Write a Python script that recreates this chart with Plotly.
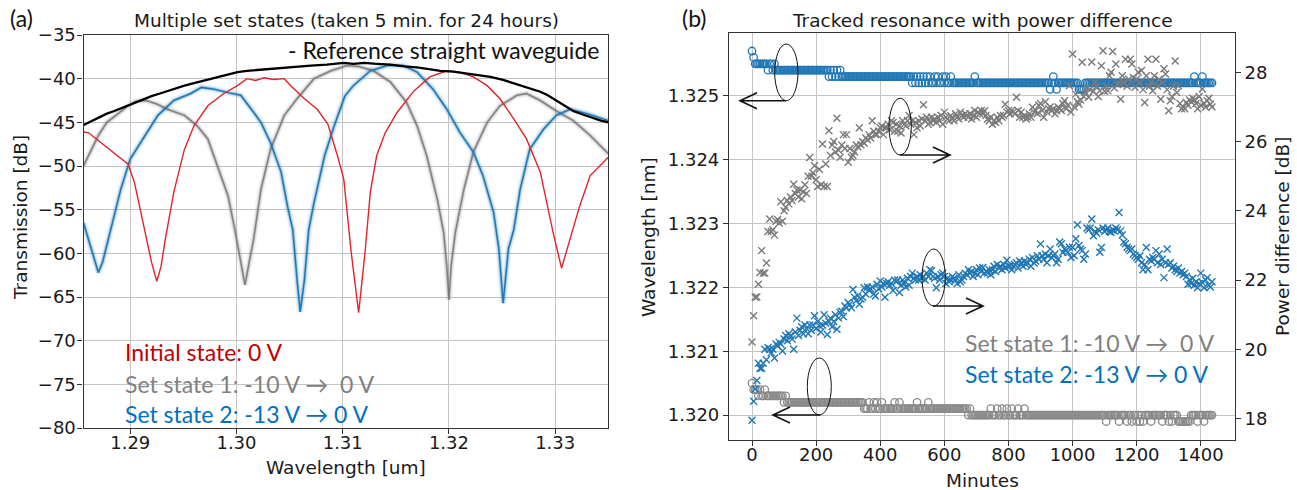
import plotly.graph_objects as go

W, H = 1297, 490

# ---------------- panel (a) data: (wavelength [um], transmission [dB]) ----------------
ref_curve = [(1.2856, -45.3), (1.2863, -44.9), (1.2870, -44.5), (1.2878, -44.0), (1.2885, -43.7),
             (1.2893, -43.3), (1.2901, -42.9), (1.2910, -42.5), (1.2920, -42.0), (1.2928, -41.7),
             (1.2935, -41.4), (1.2943, -41.1), (1.2951, -40.8), (1.2960, -40.5), (1.2970, -40.2),
             (1.2978, -39.9), (1.2985, -39.7), (1.2993, -39.5), (1.3001, -39.25), (1.3010, -39.1),
             (1.3020, -39.0), (1.3032, -38.8), (1.3045, -38.7), (1.3058, -38.6), (1.3070, -38.5),
             (1.3085, -38.4), (1.3101, -38.2), (1.3110, -38.3), (1.3120, -38.2), (1.3132, -38.3),
             (1.3145, -38.4), (1.3158, -38.6), (1.3170, -38.7), (1.3181, -38.9), (1.3192, -39.1),
             (1.3204, -39.2), (1.3215, -39.4), (1.3227, -39.6), (1.3239, -39.8), (1.3250, -40.1),
             (1.3260, -40.5), (1.3273, -41.0), (1.3286, -41.5), (1.3293, -41.9), (1.3300, -42.4),
             (1.3308, -43.0), (1.3317, -43.7), (1.3326, -44.1), (1.3335, -44.5), (1.3343, -44.8),
             (1.3350, -45.0)]

initial_curve = [(1.2856, -46.1), (1.2861, -46.2), (1.2866, -46.7), (1.2872, -47.3), (1.2882, -48.3),
                 (1.2891, -49.2), (1.2898, -49.8), (1.2904, -51.9), (1.2910, -55.3), (1.2915, -58.4),
                 (1.2920, -61.0), (1.2925, -63.2), (1.2929, -61.5), (1.2933, -58.4), (1.2941, -53.0),
                 (1.2951, -48.1), (1.2960, -45.4), (1.2973, -43.1), (1.2988, -41.7), (1.3001, -40.8),
                 (1.3010, -40.0), (1.3018, -40.2), (1.3026, -39.9), (1.3035, -40.1), (1.3045, -40.0),
                 (1.3051, -40.8), (1.3064, -42.3), (1.3076, -43.5), (1.3086, -45.2), (1.3095, -48.8),
                 (1.3101, -51.5), (1.3108, -59.9), (1.3115, -66.8), (1.3121, -59.9), (1.3126, -53.0),
                 (1.3132, -48.8), (1.3140, -46.2), (1.3151, -43.9), (1.3167, -41.4), (1.3182, -39.8),
                 (1.3198, -39.1), (1.3210, -39.25), (1.3223, -39.8), (1.3236, -40.8), (1.3248, -42.3),
                 (1.3261, -44.6), (1.3273, -46.9), (1.3286, -50.7), (1.3298, -57.6), (1.3306, -61.7),
                 (1.3314, -58.4), (1.3323, -54.6), (1.3333, -51.1), (1.3339, -50.4), (1.3350, -49.0)]

set1_curve = [(1.2856, -50.0), (1.2862, -48.5), (1.2870, -46.5), (1.2878, -45.0), (1.2888, -44.0),
              (1.2897, -43.2), (1.2905, -42.6), (1.2915, -42.5), (1.2925, -42.9), (1.2935, -43.5),
              (1.2951, -44.2), (1.2963, -45.4), (1.2973, -46.9), (1.2982, -50.0), (1.2992, -53.4),
              (1.2998, -57.0), (1.3004, -60.7), (1.3008, -63.6), (1.3012, -61.0), (1.3016, -58.5),
              (1.3023, -52.7), (1.3032, -48.1), (1.3045, -44.2), (1.3057, -42.3), (1.3073, -40.0),
              (1.3089, -39.1), (1.3104, -38.5), (1.3115, -38.6), (1.3129, -39.1), (1.3145, -40.4),
              (1.3160, -42.7), (1.3170, -45.4), (1.3179, -48.8), (1.3189, -53.8), (1.3195, -57.6),
              (1.3198, -61.5), (1.3200, -65.3), (1.3202, -61.5), (1.3206, -57.6), (1.3214, -52.7),
              (1.3223, -48.4), (1.3236, -45.0), (1.3248, -43.1), (1.3264, -41.9), (1.3273, -41.7),
              (1.3286, -42.5), (1.3301, -43.7), (1.3317, -44.8), (1.3333, -46.5), (1.3350, -48.6)]

set2_curve = [(1.2856, -56.5), (1.2862, -59.0), (1.2866, -60.5), (1.2870, -62.2), (1.2874, -61.0),
              (1.2881, -57.6), (1.2891, -52.7), (1.2900, -49.2), (1.2916, -46.1), (1.2926, -44.2),
              (1.2941, -42.5), (1.2957, -41.7), (1.2967, -41.0), (1.2979, -41.2), (1.2992, -41.6),
              (1.3004, -41.9), (1.3014, -43.5), (1.3023, -45.0), (1.3032, -47.3), (1.3042, -50.7),
              (1.3048, -54.6), (1.3053, -57.3), (1.3057, -63.0), (1.3060, -66.7), (1.3064, -63.0),
              (1.3068, -57.3), (1.3073, -54.2), (1.3083, -48.8), (1.3092, -45.4), (1.3102, -42.0),
              (1.3110, -40.8), (1.3126, -39.1), (1.3142, -38.5), (1.3157, -38.5), (1.3170, -39.25),
              (1.3185, -41.2), (1.3198, -43.5), (1.3210, -46.1), (1.3223, -48.4), (1.3232, -51.1),
              (1.3242, -55.3), (1.3247, -59.5), (1.3251, -65.7), (1.3256, -59.5), (1.3261, -57.3),
              (1.3267, -52.7), (1.3276, -48.1), (1.3289, -45.8), (1.3301, -44.2), (1.3314, -43.5),
              (1.3330, -44.0), (1.3350, -44.8)]

trans_ticks = [-80, -75, -70, -65, -60, -55, -50, -45, -40, -35]
wl_ticks = [1.29, 1.30, 1.31, 1.32, 1.33]

# ---------------- panel (b) data: one sample every 5 minutes for 24 hours ----------------
minutes = list(range(0, 1440, 5))

res_state1 = [  # set state 1 tracked resonance (grey circles)
    1.3205, 1.3204, 1.3204, 1.3204, 1.3203, 1.3204, 1.3203, 1.3203, 1.3204, 1.3203, 1.3203, 1.3203,
    1.3203, 1.3203, 1.3203, 1.3203, 1.3203, 1.3203, 1.3203, 1.3203, 1.3202, 1.3203, 1.3202, 1.3202,
    1.3202, 1.3202, 1.3202, 1.3202, 1.3202, 1.3202, 1.3202, 1.3202, 1.3202, 1.3202, 1.3202, 1.3202,
    1.3202, 1.3202, 1.3202, 1.3202, 1.3202, 1.3202, 1.3202, 1.3202, 1.3202, 1.3202, 1.3202, 1.3202,
    1.3202, 1.3202, 1.3202, 1.3202, 1.3202, 1.3202, 1.3202, 1.3202, 1.3202, 1.3202, 1.3202, 1.3202,
    1.3202, 1.3202, 1.3202, 1.3202, 1.3202, 1.3202, 1.3202, 1.3202, 1.3202, 1.3202, 1.3201, 1.3201,
    1.3201, 1.3202, 1.3201, 1.3201, 1.3202, 1.3201, 1.3202, 1.3201, 1.3201, 1.3202, 1.3201, 1.3201,
    1.3201, 1.3201, 1.3201, 1.3201, 1.3201, 1.3202, 1.3201, 1.3201, 1.3202, 1.3201, 1.3201, 1.3201,
    1.3201, 1.3201, 1.3201, 1.3201, 1.3201, 1.3201, 1.3201, 1.3202, 1.3201, 1.3201, 1.3201, 1.3201,
    1.3201, 1.3201, 1.3202, 1.3201, 1.3201, 1.3201, 1.3201, 1.3201, 1.3201, 1.3201, 1.3201, 1.3201,
    1.3201, 1.3201, 1.3201, 1.3201, 1.3201, 1.3201, 1.3201, 1.3201, 1.3201, 1.3201, 1.3201, 1.3201,
    1.3201, 1.3201, 1.3201, 1.3200, 1.3201, 1.3200, 1.3200, 1.3200, 1.3200, 1.3200, 1.3200, 1.3200,
    1.3200, 1.3200, 1.3200, 1.3200, 1.3200, 1.3201, 1.3200, 1.3200, 1.3200, 1.3201, 1.3200, 1.3200,
    1.3201, 1.3200, 1.3200, 1.3201, 1.3200, 1.3200, 1.3201, 1.3200, 1.3200, 1.3200, 1.3201, 1.3200,
    1.3200, 1.3200, 1.3201, 1.3200, 1.3200, 1.3200, 1.3200, 1.3200, 1.3200, 1.3200, 1.3200, 1.3200,
    1.3200, 1.3200, 1.3200, 1.3200, 1.3200, 1.3200, 1.3200, 1.3200, 1.3200, 1.3200, 1.3200, 1.3200,
    1.3200, 1.3200, 1.3200, 1.3200, 1.3200, 1.3200, 1.3200, 1.3200, 1.3200, 1.3200, 1.3200, 1.3200,
    1.3200, 1.3200, 1.3200, 1.3200, 1.3200, 1.3200, 1.3200, 1.3200, 1.3200, 1.3200, 1.3200, 1.3200,
    1.3200, 1.3200, 1.3200, 1.3200, 1.3200, 1.3199, 1.3200, 1.3200, 1.3200, 1.3200, 1.3200, 1.3200,
    1.3200, 1.3199, 1.3200, 1.3200, 1.3200, 1.3200, 1.3199, 1.3200, 1.3200, 1.3199, 1.3200, 1.3200,
    1.3199, 1.3200, 1.3199, 1.3200, 1.3199, 1.3200, 1.3200, 1.3200, 1.3200, 1.3199, 1.3200, 1.3200,
    1.3200, 1.3200, 1.3200, 1.3200, 1.3199, 1.3200, 1.3200, 1.3200, 1.3199, 1.3200, 1.3199, 1.3200,
    1.3200, 1.3200, 1.3199, 1.3199, 1.3199, 1.3199, 1.3199, 1.3199, 1.3199, 1.3199, 1.3200, 1.3200,
    1.3200, 1.3200, 1.3199, 1.3200, 1.3200, 1.3200, 1.3199, 1.3200, 1.3200, 1.3200, 1.3200, 1.3200,
]

res_state2 = [  # set state 2 tracked resonance (blue circles)
    1.3257, 1.3256, 1.3255, 1.3255, 1.3255, 1.3255, 1.3255, 1.3255, 1.3255, 1.3255, 1.3254, 1.3255,
    1.3255, 1.3254, 1.3255, 1.3254, 1.3254, 1.3254, 1.3254, 1.3254, 1.3254, 1.3254, 1.3254, 1.3254,
    1.3254, 1.3254, 1.3254, 1.3254, 1.3254, 1.3254, 1.3254, 1.3254, 1.3254, 1.3254, 1.3254, 1.3254,
    1.3254, 1.3254, 1.3254, 1.3254, 1.3254, 1.3254, 1.3254, 1.3254, 1.3254, 1.3254, 1.3254, 1.3254,
    1.3253, 1.3254, 1.3253, 1.3254, 1.3253, 1.3254, 1.3253, 1.3254, 1.3253, 1.3253, 1.3253, 1.3253,
    1.3253, 1.3253, 1.3253, 1.3253, 1.3253, 1.3253, 1.3253, 1.3253, 1.3253, 1.3253, 1.3253, 1.3253,
    1.3253, 1.3253, 1.3253, 1.3253, 1.3253, 1.3253, 1.3253, 1.3253, 1.3253, 1.3253, 1.3253, 1.3253,
    1.3253, 1.3253, 1.3253, 1.3253, 1.3253, 1.3253, 1.3253, 1.3253, 1.3253, 1.3253, 1.3253, 1.3253,
    1.3253, 1.3253, 1.3253, 1.3253, 1.3252, 1.3253, 1.3252, 1.3253, 1.3252, 1.3253, 1.3252, 1.3253,
    1.3252, 1.3253, 1.3252, 1.3253, 1.3252, 1.3252, 1.3253, 1.3252, 1.3253, 1.3252, 1.3252, 1.3253,
    1.3252, 1.3253, 1.3252, 1.3252, 1.3253, 1.3252, 1.3252, 1.3252, 1.3252, 1.3252, 1.3252, 1.3252,
    1.3252, 1.3252, 1.3252, 1.3252, 1.3252, 1.3252, 1.3252, 1.3253, 1.3252, 1.3252, 1.3252, 1.3252,
    1.3252, 1.3252, 1.3252, 1.3252, 1.3252, 1.3252, 1.3252, 1.3252, 1.3252, 1.3252, 1.3252, 1.3252,
    1.3252, 1.3252, 1.3252, 1.3252, 1.3252, 1.3252, 1.3252, 1.3252, 1.3252, 1.3252, 1.3252, 1.3252,
    1.3252, 1.3252, 1.3252, 1.3252, 1.3252, 1.3252, 1.3252, 1.3252, 1.3252, 1.3252, 1.3252, 1.3252,
    1.3252, 1.3252, 1.3252, 1.3252, 1.3252, 1.3252, 1.3251, 1.3252, 1.3253, 1.3252, 1.3251, 1.3252,
    1.3252, 1.3252, 1.3252, 1.3252, 1.3252, 1.3252, 1.3252, 1.3252, 1.3252, 1.3252, 1.3252, 1.3252,
    1.3251, 1.3251, 1.3251, 1.3251, 1.3252, 1.3252, 1.3252, 1.3252, 1.3252, 1.3252, 1.3252, 1.3252,
    1.3252, 1.3252, 1.3252, 1.3252, 1.3252, 1.3252, 1.3252, 1.3252, 1.3252, 1.3252, 1.3252, 1.3252,
    1.3252, 1.3252, 1.3252, 1.3252, 1.3252, 1.3252, 1.3252, 1.3252, 1.3252, 1.3252, 1.3252, 1.3252,
    1.3252, 1.3252, 1.3252, 1.3252, 1.3252, 1.3252, 1.3252, 1.3252, 1.3252, 1.3252, 1.3252, 1.3252,
    1.3252, 1.3252, 1.3252, 1.3252, 1.3252, 1.3252, 1.3252, 1.3252, 1.3252, 1.3252, 1.3252, 1.3252,
    1.3252, 1.3252, 1.3252, 1.3252, 1.3252, 1.3252, 1.3252, 1.3252, 1.3252, 1.3252, 1.3252, 1.3252,
    1.3253, 1.3252, 1.3252, 1.3252, 1.3252, 1.3253, 1.3252, 1.3252, 1.3252, 1.3252, 1.3252, 1.3252,
]

pdiff_state1 = [  # set state 1 power difference [dB] (grey crosses)
    20.21, 20.97, 21.50, 21.51, 21.88, 22.22, 22.85, 22.20, 22.20, 22.49, 23.40, 23.76,
    23.40, 23.45, 23.30, 23.70, 23.75, 23.65, 24.26, 23.70, 24.00, 24.10, 24.30, 24.20,
    24.40, 24.30, 24.77, 24.50, 24.60, 24.40, 24.60, 24.35, 24.55, 24.75, 24.50, 25.00,
    25.54, 25.00, 25.10, 25.30, 24.90, 24.70, 25.20, 24.75, 25.93, 24.70, 25.35, 24.70,
    26.31, 25.60, 25.90, 26.00, 25.70, 26.67, 25.75, 25.55, 25.90, 26.20, 25.80, 26.20,
    25.40, 25.80, 25.55, 25.60, 25.70, 25.90, 25.85, 26.40, 25.90, 26.00, 25.95, 26.10,
    26.05, 26.20, 26.10, 26.60, 26.30, 26.20, 26.20, 26.30, 26.40, 26.45, 26.20, 26.40,
    26.40, 26.50, 26.35, 26.60, 26.55, 26.30, 26.50, 26.30, 26.45, 26.25, 26.60, 26.50,
    26.45, 26.60, 26.75, 26.50, 26.60, 26.20, 26.55, 26.40, 26.60, 26.45, 26.65, 27.06,
    26.60, 26.70, 26.50, 26.55, 26.70, 26.60, 26.65, 26.55, 26.70, 26.60, 26.75, 26.50,
    26.85, 26.70, 26.65, 26.60, 26.75, 26.65, 26.60, 26.80, 26.70, 26.65, 26.85, 26.75,
    26.70, 26.80, 26.75, 26.70, 26.80, 26.65, 26.75, 26.90, 26.70, 26.85, 26.80, 26.90,
    26.80, 26.89, 26.75, 26.65, 26.60, 26.70, 26.50, 26.60, 26.55, 26.70, 26.60, 26.75,
    26.70, 26.75, 27.08, 26.85, 26.90, 26.80, 26.90, 26.85, 26.80, 27.28, 26.90, 26.70,
    26.85, 26.70, 26.75, 26.65, 26.70, 26.80, 26.70, 26.99, 26.85, 26.90, 26.80, 27.05,
    27.10, 26.90, 26.70, 27.15, 26.85, 26.95, 27.00, 26.90, 26.95, 26.80, 26.90, 27.00,
    26.95, 26.90, 27.10, 27.18, 26.95, 27.05, 27.61, 26.85, 28.53, 27.00, 27.37, 27.15,
    27.08, 27.20, 28.29, 27.30, 27.42, 27.55, 27.28, 27.50, 28.30, 27.45, 27.71, 27.60,
    27.30, 27.47, 28.19, 28.62, 27.45, 27.60, 27.47, 27.90, 28.00, 28.60, 27.55, 28.24,
    27.65, 27.70, 27.22, 27.90, 27.71, 28.38, 27.60, 27.80, 28.38, 28.24, 27.85, 27.57,
    27.80, 28.00, 27.70, 28.05, 27.50, 27.13, 27.90, 28.38, 27.60, 27.71, 27.47, 27.90,
    28.38, 27.60, 27.80, 27.22, 27.70, 28.10, 27.95, 27.50, 26.89, 27.18, 27.30, 27.60,
    28.33, 27.42, 27.61, 27.10, 26.95, 27.00, 26.95, 27.13, 27.05, 27.20, 27.15, 27.25,
    27.20, 27.10, 26.95, 27.30, 27.05, 27.52, 27.10, 26.99, 27.18, 27.25, 27.08, 27.00,
]

pdiff_state2 = [  # set state 2 power difference [dB] (blue crosses)
    17.95, 18.50, 18.85, 19.10, 19.60, 19.45, 19.45, 19.60, 20.00, 19.70, 20.05, 20.00,
    19.90, 20.00, 19.75, 20.15, 20.10, 20.20, 20.15, 19.95, 20.30, 20.40, 20.25, 20.45,
    20.40, 20.30, 20.00, 20.50, 20.90, 20.40, 20.55, 20.65, 20.45, 20.70, 20.60, 20.45,
    20.70, 20.55, 20.70, 20.97, 20.60, 20.80, 20.68, 20.50, 20.70, 21.00, 20.75, 20.43,
    20.80, 20.90, 20.65, 20.80, 21.00, 20.58, 20.90, 21.06, 21.10, 20.95, 21.25, 21.20,
    21.35, 21.30, 21.20, 21.73, 21.50, 21.40, 21.55, 21.30, 21.45, 21.50, 21.78, 21.60,
    21.80, 21.70, 21.75, 21.80, 21.60, 21.54, 21.88, 21.75, 21.97, 21.80, 21.90, 21.50,
    21.90, 21.95, 21.85, 21.90, 21.70, 22.00, 21.95, 22.00, 21.64, 21.85, 22.00, 21.90,
    21.80, 22.05, 21.85, 22.10, 22.20, 22.05, 22.00, 22.10, 22.00, 22.15, 22.05, 22.10,
    22.00, 22.20, 22.10, 22.30, 22.27, 22.10, 22.05, 21.78, 22.10, 22.00, 22.15, 22.20,
    22.10, 21.90, 22.05, 21.95, 22.00, 22.10, 22.05, 22.00, 21.90, 22.15, 21.95, 22.00,
    22.10, 22.20, 22.15, 22.30, 22.20, 22.25, 22.10, 22.20, 22.30, 22.15, 22.35, 22.25,
    22.36, 22.20, 22.25, 22.20, 22.30, 22.15, 22.30, 22.40, 22.25, 22.45, 22.35, 22.40,
    22.30, 22.45, 22.35, 22.57, 22.40, 22.40, 22.30, 22.40, 22.45, 22.50, 22.35, 22.55,
    22.50, 22.40, 22.55, 22.45, 22.50, 22.60, 22.40, 22.65, 22.49, 22.55, 22.70, 22.60,
    23.04, 22.70, 22.60, 22.75, 22.50, 22.70, 22.90, 22.65, 22.70, 22.75, 22.50, 22.60,
    23.10, 23.05, 22.80, 22.90, 22.85, 22.80, 22.95, 22.65, 22.95, 22.70, 23.19, 23.60,
    23.00, 22.90, 22.85, 22.60, 22.75, 23.50, 23.45, 23.50, 23.76, 23.28, 23.40, 23.35,
    23.45, 22.80, 22.94, 23.50, 23.40, 23.45, 23.50, 23.40, 23.38, 23.45, 23.42, 23.50,
    23.45, 23.95, 23.42, 23.30, 23.10, 23.05, 22.95, 22.90, 22.85, 22.90, 22.75, 22.70,
    22.65, 22.60, 22.70, 22.50, 22.30, 22.45, 22.94, 22.30, 22.60, 22.55, 22.65, 22.60,
    22.85, 22.50, 22.75, 22.45, 22.60, 22.07, 22.50, 22.90, 22.45, 22.50, 22.35, 22.40,
    22.30, 22.25, 22.35, 22.20, 22.25, 22.15, 22.20, 22.10, 21.88, 22.00, 21.90, 22.05,
    21.85, 21.95, 21.78, 21.90, 22.20, 21.93, 21.78, 22.00, 22.07, 21.85, 21.80, 21.95,
]

minute_ticks = [0, 200, 400, 600, 800, 1000, 1200, 1400]
res_ticks = [1.320, 1.321, 1.322, 1.323, 1.324, 1.325]
pdiff_ticks = [18, 20, 22, 24, 26, 28]

# ---------------- styling ----------------
TICK_FONT = dict(family="DejaVu Sans", size=18, color="#1a1a1a")
LABEL_FONT = dict(family="DejaVu Sans", size=18.5, color="#1a1a1a")
NOTE_FAMILY = "Lato, Open Sans, sans-serif"
RED_TXT, GRAY_TXT, BLUE_TXT = "#C00000", "#808080", "#0070C0"
SPINE = "#333333"
GRID = "#c4c4c4"


def px(x):
    return x / W


def py(y):
    return 1 - y / H


fig = go.Figure()


def add_bundle(curve, rgb, main_color):
    xs = [p[0] for p in curve]
    ys = [p[1] for p in curve]
    for width, alpha in [(7, 0.08), (4.5, 0.14), (2.8, 0.25)]:
        fig.add_trace(go.Scatter(x=xs, y=ys, mode="lines",
                                 line=dict(color=f"rgba({rgb},{alpha})", width=width),
                                 hoverinfo="skip", showlegend=False))
    fig.add_trace(go.Scatter(x=xs, y=ys, mode="lines",
                             line=dict(color=main_color, width=1.5), showlegend=False))


add_bundle(set1_curve, "128,128,128", "rgba(105,105,105,0.75)")
add_bundle(set2_curve, "31,119,180", "#1f77b4")
fig.add_trace(go.Scatter(x=[p[0] for p in initial_curve], y=[p[1] for p in initial_curve],
                         mode="lines", line=dict(color="#e3232b", width=1.4), showlegend=False))
fig.add_trace(go.Scatter(x=[p[0] for p in ref_curve], y=[p[1] for p in ref_curve],
                         mode="lines", line=dict(color="#000000", width=2.3), showlegend=False))

# panel (b)
fig.add_trace(go.Scatter(x=minutes, y=res_state2, mode="markers", xaxis="x2", yaxis="y2",
                         marker=dict(symbol="circle-open", size=7.5, color="#1f77b4",
                                     line=dict(width=1.3, color="#1f77b4")), showlegend=False))
fig.add_trace(go.Scatter(x=minutes, y=res_state1, mode="markers", xaxis="x2", yaxis="y2",
                         marker=dict(symbol="circle-open", size=7.5, color="#8a8a8a",
                                     line=dict(width=1.3, color="#8a8a8a")), showlegend=False))
fig.add_trace(go.Scatter(x=minutes, y=pdiff_state1, mode="markers", xaxis="x2", yaxis="y3",
                         marker=dict(symbol="x-thin", size=7, color="#7a7a7a",
                                     line=dict(width=1.4, color="#7a7a7a")), showlegend=False))
fig.add_trace(go.Scatter(x=minutes, y=pdiff_state2, mode="markers", xaxis="x2", yaxis="y3",
                         marker=dict(symbol="x-thin", size=7, color="#1f77b4",
                                     line=dict(width=1.4, color="#1f77b4")), showlegend=False))

axis_common = dict(showline=True, linecolor=SPINE, linewidth=1.2, mirror=True,
                   ticks="outside", ticklen=5, tickcolor=SPINE, tickwidth=1.1,
                   showgrid=True, gridcolor=GRID, gridwidth=1, zeroline=False,
                   tickfont=TICK_FONT, automargin=False)

fig.update_layout(
    template="none",
    width=W, height=H, margin=dict(l=0, r=0, t=0, b=0, pad=0), autosize=False,
    paper_bgcolor="white", plot_bgcolor="white", showlegend=False,
    xaxis=dict(domain=[px(83.5), px(608.3)], range=[1.2856, 1.3350], anchor="y",
               tickvals=wl_ticks, ticktext=[f"{v:.2f}" for v in wl_ticks],
               ticklabelstandoff=-7, **axis_common),
    yaxis=dict(domain=[py(428), py(35)], range=[-80, -35], anchor="x",
               tickvals=trans_ticks, ticktext=[f"\u2212{abs(v)}" for v in trans_ticks],
               ticklabelstandoff=-2, **axis_common),
    xaxis2=dict(domain=[px(729), px(1235)], range=[-71.75, 1506.75], anchor="y2",
                tickvals=minute_ticks, ticklabelstandoff=-7, **axis_common),
    yaxis2=dict(domain=[py(440), py(32.5)], range=[1.31961, 1.32599], anchor="x2",
                tickvals=res_ticks, ticktext=[f"{v:.3f}" for v in res_ticks], **axis_common),
    yaxis3=dict(overlaying="y2", side="right", anchor="x2", range=[17.38, 29.15],
                tickvals=pdiff_ticks, showgrid=False, zeroline=False, showline=False,
                ticks="outside", ticklen=5, tickcolor=SPINE, tickwidth=1.1, tickfont=TICK_FONT,
                automargin=False),
)

ann = []


def text(x, y, s, font, xanchor="center", yanchor="middle", angle=0):
    ann.append(dict(x=px(x), y=py(y), xref="paper", yref="paper", text=s, showarrow=False,
                    xanchor=xanchor, yanchor=yanchor, textangle=angle, font=font))


# titles / labels
text(346, 20, "Multiple set states (taken 5 min. for 24 hours)", LABEL_FONT)
text(982, 20, "Tracked resonance with power difference", LABEL_FONT)
text(346, 467, "Wavelength [um]", LABEL_FONT)
text(20, 218, "Transmission [dB]", LABEL_FONT, angle=-90)
text(982, 480, "Minutes", LABEL_FONT)
text(648, 237, "Wavelength [nm]", LABEL_FONT, angle=-90)
text(1282, 237, "Power difference [dB]", LABEL_FONT, angle=-90)
text(8, 18, "(a)", dict(family=NOTE_FAMILY, size=23, color="#111"), xanchor="left")
text(680, 18, "(b)", dict(family=NOTE_FAMILY, size=23, color="#111"), xanchor="left")

# in-plot notes
nf = lambda c: dict(family=NOTE_FAMILY, size=23, color=c)
text(601, 50, "- Reference straight waveguide", nf("#111111"), xanchor="right")
text(123, 352, "Initial state: 0 V", nf(RED_TXT), xanchor="left")
text(123, 384, "Set state 1: -10 V \u2192  0 V", nf(GRAY_TXT), xanchor="left")
text(123, 414, "Set state 2: -13 V \u2192 0 V", nf(BLUE_TXT), xanchor="left")
text(963, 343, "Set state 1: -10 V \u2192  0 V", nf(GRAY_TXT), xanchor="left")
text(963, 374, "Set state 2: -13 V \u2192 0 V", nf(BLUE_TXT), xanchor="left")

fig.update_layout(annotations=ann)

# ellipses and axis-pointing arrows (pixel geometry)
shapes = []
ellipses = [(774.7, 44, 798, 100.7), (889, 98.3, 911.3, 155), (922, 249, 945.3, 306), (807.3, 358, 831.3, 415)]
for x0, y0, x1, y1 in ellipses:
    shapes.append(dict(type="circle", xref="paper", yref="paper", x0=px(x0), x1=px(x1),
                       y0=py(y1), y1=py(y0), line=dict(color="#111", width=1)))
arrows = [(786, 100.7, 740, 100.7), (900, 155, 950, 155), (933, 306, 983, 306), (820, 415, 773, 415)]
for xs, ys, xe, ye in arrows:
    d = 1 if xe > xs else -1
    path = (f"M {px(xs)} {py(ys)} L {px(xe)} {py(ye)} "
            f"M {px(xe - d * 17)} {py(ye - 8)} L {px(xe)} {py(ye)} L {px(xe - d * 17)} {py(ye + 8)}")
    shapes.append(dict(type="path", xref="paper", yref="paper", path=path,
                       line=dict(color="#111", width=1.6)))
fig.update_layout(shapes=shapes)

fig.write_html(
    "out.html",
    config={"displayModeBar": False},
    post_script="document.documentElement.style.margin='0';document.body.style.margin='0';"
                "document.body.style.padding='0';document.body.style.overflow='hidden';",
)
